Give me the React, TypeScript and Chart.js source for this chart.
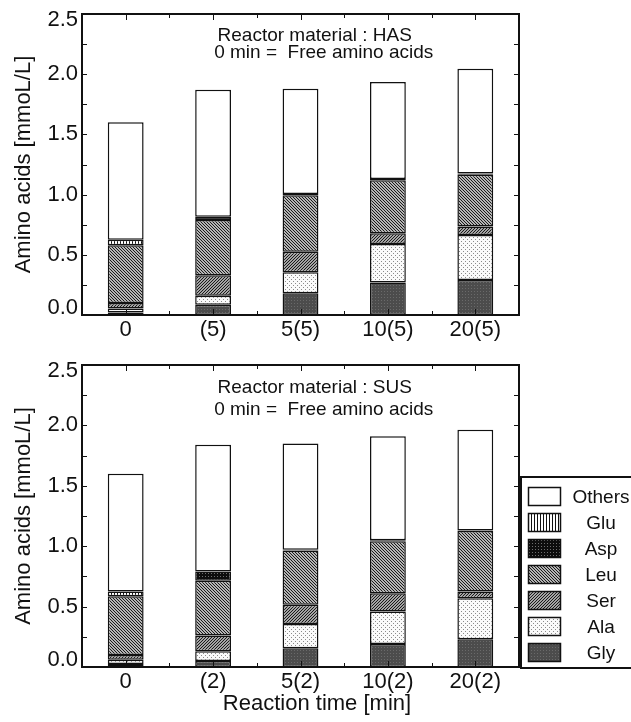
import React, { useEffect, useRef } from "react";
import { Chart, registerables } from "chart.js";

Chart.register(...registerables);

const FONT = "'Liberation Sans', Arial, Helvetica, sans-serif";

// ---------- data ----------
const SERIES_NAMES = ["Gly", "Ala", "Ser", "Leu", "Asp", "Glu", "Others"];

const HAS_CATEGORIES = ["0", "(5)", "5(5)", "10(5)", "20(5)"];
const HAS_GLY = [0.02, 0.085, 0.18, 0.27, 0.29];
const HAS_ALA = [0.035, 0.075, 0.175, 0.32, 0.375];
const HAS_SER = [0.045, 0.17, 0.17, 0.09, 0.07];
const HAS_LEU = [0.48, 0.46, 0.47, 0.44, 0.43];
const HAS_ASP = [0, 0.025, 0.01, 0.01, 0.01];
const HAS_GLU = [0.045, 0, 0, 0, 0];
const HAS_OTHERS = [0.975, 1.055, 0.875, 0.805, 0.87];

const SUS_CATEGORIES = ["0", "(2)", "5(2)", "10(2)", "20(2)"];
const SUS_GLY = [0.025, 0.05, 0.155, 0.19, 0.23];
const SUS_ALA = [0.035, 0.08, 0.2, 0.27, 0.34];
const SUS_SER = [0.04, 0.13, 0.16, 0.15, 0.055];
const SUS_LEU = [0.485, 0.455, 0.45, 0.43, 0.5];
const SUS_ASP = [0, 0.075, 0.005, 0.01, 0.005];
const SUS_GLU = [0.04, 0, 0, 0, 0];
const SUS_OTHERS = [0.975, 1.05, 0.88, 0.86, 0.835];

const Y_TICK_LABELS = ["0.0", "0.5", "1.0", "1.5", "2.0", "2.5"];
const Y_MIN = 0;
const Y_MAX = 2.5;
const Y_STEP = 0.5;
const Y_MINOR_STEP = 0.25;

const Y_TITLE = "Amino acids [mmoL/L]";
const X_TITLE = "Reaction time [min]";
const HAS_NOTE = ["Reactor material : HAS", "0 min =  Free amino acids"];
const SUS_NOTE = ["Reactor material : SUS", "0 min =  Free amino acids"];

// ---------- patterns ----------
function makePattern(
  w: number,
  h: number,
  bg: string,
  fg: string,
  on: (x: number, y: number) => boolean
): CanvasPattern | string {
  const c = document.createElement("canvas");
  c.width = w;
  c.height = h;
  const g = c.getContext("2d");
  if (!g) return bg;
  g.fillStyle = bg;
  g.fillRect(0, 0, w, h);
  g.fillStyle = fg;
  for (let y = 0; y < h; y++) {
    for (let x = 0; x < w; x++) {
      if (on(x, y)) g.fillRect(x, y, 1, 1);
    }
  }
  return g.createPattern(c, "repeat") || bg;
}

function buildFills(): Record<string, CanvasPattern | string> {
  return {
    Gly: makePattern(3, 3, "#4c4c4c", "#6a6a6a", (x, y) => x === 0 && y === 0),
    Ala: makePattern(4, 4, "#fafafa", "#8a8a8a", (x, y) => (x === 1 && y === 1) || (x === 3 && y === 3)),
    Ser: makePattern(3, 3, "#a4a4a4", "#1a1a1a", (x, y) => (x + y) % 3 === 0),
    Leu: makePattern(3, 3, "#b4b4b4", "#1a1a1a", (x, y) => (((x - y) % 3) + 3) % 3 === 0),
    Asp: makePattern(3, 3, "#0d0d0d", "#6e6e6e", (x, y) => x === 1 && y === 1),
    Glu: makePattern(3, 1, "#ffffff", "#111111", (x) => x === 0),
    Others: "#ffffff",
  };
}

// ---------- decoration plugin ----------
const decorPlugin = {
  id: "decor",
  afterDatasetsDraw(chart: any, _args: any, opts: any) {
    const { ctx, chartArea: a, scales } = chart;
    const xs = scales.x;
    const ys = scales.y;
    ctx.save();
    ctx.strokeStyle = "#111";
    ctx.lineWidth = 1;
    ctx.beginPath();
    // y minor/major inward ticks on both sides
    for (let v = Y_MIN; v <= Y_MAX + 1e-9; v += Y_MINOR_STEP) {
      const py = Math.round(ys.getPixelForValue(v)) + 0.5;
      ctx.moveTo(a.left, py);
      ctx.lineTo(a.left + 5, py);
      ctx.moveTo(a.right, py);
      ctx.lineTo(a.right - 5, py);
    }
    // x ticks: centers (major) and boundaries (minor)
    const n = chart.data.labels.length;
    for (let i = 0; i < n; i++) {
      const px = Math.round(xs.getPixelForValue(i)) + 0.5;
      ctx.moveTo(px, a.top);
      ctx.lineTo(px, a.top + 6);
      ctx.moveTo(px, a.bottom);
      ctx.lineTo(px, a.bottom - 6);
    }
    for (let i = 1; i < n; i++) {
      const px = Math.round(xs.getPixelForValue(i - 0.5)) + 0.5;
      ctx.moveTo(px, a.top);
      ctx.lineTo(px, a.top + 4);
      ctx.moveTo(px, a.bottom);
      ctx.lineTo(px, a.bottom - 4);
    }
    ctx.stroke();

    // frame
    ctx.lineWidth = 2;
    ctx.strokeStyle = "#111";
    ctx.strokeRect(a.left, a.top, a.right - a.left, a.bottom - a.top);

    // y tick labels (kept inside the frame's height like the original)
    ctx.fillStyle = "#111";
    ctx.font = `22px ${FONT}`;
    ctx.textAlign = "right";
    ctx.textBaseline = "middle";
    ys.ticks.forEach((t: any, i: number) => {
      let py = ys.getPixelForValue(t.value);
      py = Math.max(a.top + 6, Math.min(a.bottom - 7.5, py));
      ctx.fillText(Y_TICK_LABELS[i] ?? String(t.value), a.left - 4, py);
    });

    // annotation
    ctx.font = `19px ${FONT}`;
    ctx.textAlign = "center";
    ctx.textBaseline = "alphabetic";
    (opts.note || []).forEach((line: any) => {
      ctx.fillText(line.text, a.left + line.dx, a.top + line.dy);
    });

    // x title
    if (opts.xTitle) {
      ctx.font = `22px ${FONT}`;
      ctx.textAlign = "center";
      ctx.fillText(opts.xTitle.text, a.left + opts.xTitle.dx, a.bottom + opts.xTitle.dy);
    }

    // legend
    if (opts.legend) {
      const L = opts.legend;
      ctx.lineWidth = 2;
      ctx.strokeStyle = "#111";
      ctx.strokeRect(L.left, L.top, L.width, L.height);
      const ds = chart.data.datasets.slice().reverse();
      ctx.font = `19px ${FONT}`;
      ctx.textAlign = "center";
      ctx.textBaseline = "middle";
      ds.forEach((d: any, i: number) => {
        const sy = L.top + L.rowTop + i * L.rowGap;
        ctx.fillStyle = d.backgroundColor;
        ctx.fillRect(L.left + L.swLeft, sy, L.swW, L.swH);
        ctx.lineWidth = 1.5;
        ctx.strokeStyle = "#111";
        ctx.strokeRect(L.left + L.swLeft + 0.5, sy + 0.5, L.swW - 1, L.swH - 1);
        ctx.fillStyle = "#111";
        ctx.fillText(d.label, L.left + L.textX, sy + L.swH / 2 + 1);
      });
    }
    ctx.restore();
  },
};

type PanelProps = {
  categories: string[];
  series: number[][];
  height: number;
  padTop: number;
  xAxisHeight: number;
  note: { text: string; dx: number; dy: number }[];
  xTitle?: { text: string; dx: number; dy: number };
  legend?: any;
  top: number;
};

function Panel(p: PanelProps) {
  const ref = useRef<HTMLCanvasElement | null>(null);
  useEffect(() => {
    if (!ref.current) return;
    const fills = buildFills();
    const chart = new Chart(ref.current, {
      type: "bar",
      data: {
        labels: p.categories,
        datasets: SERIES_NAMES.map((name, i) => ({
          label: name,
          data: p.series[i],
          backgroundColor: fills[name] as any,
          borderColor: "#111",
          borderWidth: 1.5,
          borderSkipped: false,
          barPercentage: 0.41,
          categoryPercentage: 1,
        })),
      },
      options: {
        responsive: false,
        maintainAspectRatio: false,
        animation: false,
        devicePixelRatio: 1,
        layout: { padding: { top: p.padTop, right: 112, left: 0, bottom: 0 } },
        plugins: {
          legend: { display: false },
          tooltip: { enabled: false },
          title: { display: false },
          decor: { note: p.note, xTitle: p.xTitle, legend: p.legend },
        } as any,
        scales: {
          x: {
            stacked: true,
            grid: { display: false, drawTicks: false },
            border: { display: false },
            ticks: {
              padding: 2,
              color: "#111",
              font: { family: FONT, size: 22, lineHeight: 1.2 },
              maxRotation: 0,
              autoSkip: false,
            },
            afterFit: (s: any) => {
              s.height = p.xAxisHeight;
            },
          },
          y: {
            stacked: true,
            min: Y_MIN,
            max: Y_MAX,
            grid: { display: false, drawTicks: false },
            border: { display: false },
            ticks: { display: false, stepSize: Y_STEP },
            title: {
              display: true,
              text: Y_TITLE,
              color: "#111",
              font: { family: FONT, size: 22, lineHeight: 1.2 },
              padding: { top: 11, bottom: 0 },
            },
            afterFit: (s: any) => {
              s.width = 82;
            },
          },
        },
      },
      plugins: [decorPlugin],
    });
    return () => chart.destroy();
  }, []);
  return (
    <canvas
      ref={ref}
      width={631}
      height={p.height}
      style={{ position: "absolute", left: 0, top: p.top, width: 631, height: p.height, display: "block" }}
    />
  );
}

export default function App() {
  return (
    <div
      style={{
        position: "absolute",
        left: 0,
        top: 0,
        width: 631,
        height: 722,
        background: "#fff",
        overflow: "hidden",
      }}
    >
      <Panel
        top={0}
        height={350}
        padTop={14}
        xAxisHeight={35}
        categories={HAS_CATEGORIES}
        series={[HAS_GLY, HAS_ALA, HAS_SER, HAS_LEU, HAS_ASP, HAS_GLU, HAS_OTHERS]}
        note={[
          { text: HAS_NOTE[0], dx: 232.7, dy: 26.7 },
          { text: HAS_NOTE[1], dx: 241.7, dy: 44.3 },
        ]}
      />
      <Panel
        top={350}
        height={372}
        padTop={15}
        xAxisHeight={55}
        categories={SUS_CATEGORIES}
        series={[SUS_GLY, SUS_ALA, SUS_SER, SUS_LEU, SUS_ASP, SUS_GLU, SUS_OTHERS]}
        note={[
          { text: SUS_NOTE[0], dx: 232.7, dy: 28.3 },
          { text: SUS_NOTE[1], dx: 241.7, dy: 50 },
        ]}
        xTitle={{ text: X_TITLE, dx: 235, dy: 43 }}
        legend={{
          left: 521,
          top: 127,
          width: 130,
          height: 191,
          rowTop: 10,
          rowGap: 26,
          swLeft: 7,
          swW: 33,
          swH: 19,
          textX: 80,
        }}
      />
    </div>
  );
}
